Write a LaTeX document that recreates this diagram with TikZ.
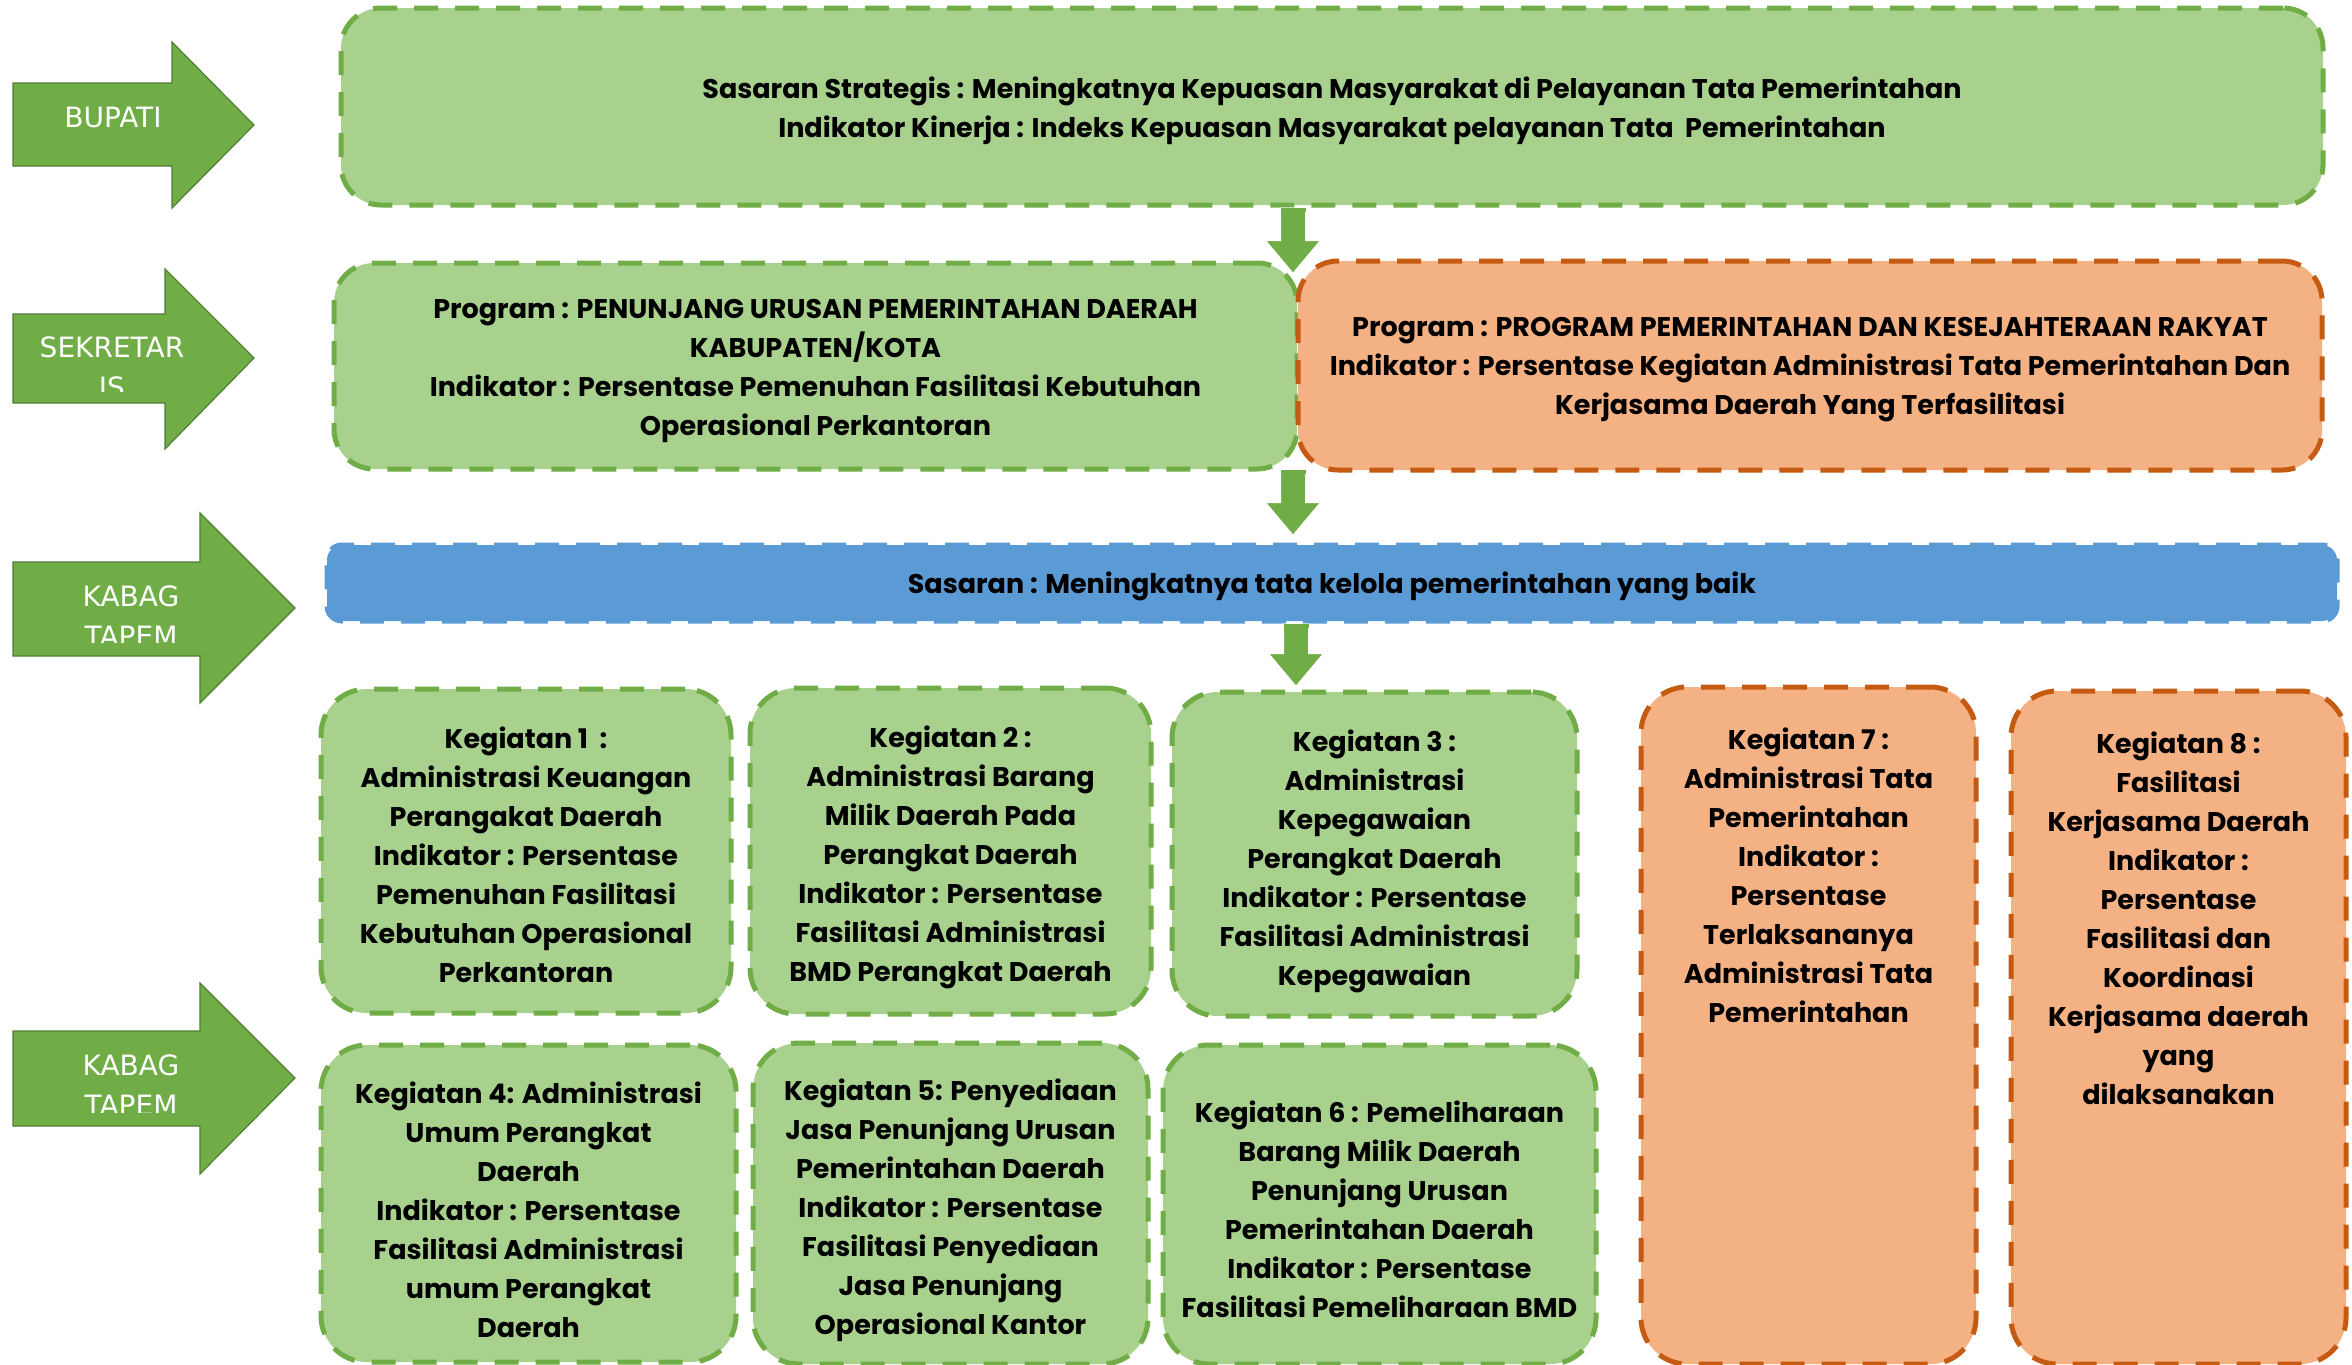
\documentclass[tikz,border=0pt]{standalone}
\usepackage{fontspec}
\setmainfont{Poppins}
\newfontfamily\arrowfont{DejaVu Sans}
\usetikzlibrary{calc}
\definecolor{gfill}{HTML}{A9D18E}
\definecolor{gline}{HTML}{70AD47}
\definecolor{ofill}{HTML}{F4B183}
\definecolor{oline}{HTML}{C55A11}
\definecolor{bfill}{HTML}{5B9BD5}
\definecolor{agreen}{HTML}{70AD47}
\definecolor{aline}{HTML}{507E32}
\tikzset{
  basebox/.style={rectangle, line width=2.5pt, dash pattern=on 12pt off 8.5pt, inner sep=0pt},
  greenbox/.style={basebox, fill=gfill, draw=gline},
  orangebox/.style={basebox, fill=ofill, draw=oline},
  bluebox/.style={basebox, fill=bfill, draw=bfill, rounded corners=7.5pt},
  bigr/.style={rounded corners=20pt},
  kegr/.style={rounded corners=23pt},
  boxtext/.style={align=center, inner sep=0pt, font=\fontsize{13.5}{19.5}\selectfont\bfseries, text=black},
  sidearrow/.style={fill=agreen, draw=aline, line width=0.6pt},
  sidetext/.style={text=white, align=center, inner sep=0pt, font=\arrowfont\fontsize{14}{20}\selectfont},
  downarrow/.style={fill=agreen, draw=white, line width=1pt},
}
\begin{document}
\begin{tikzpicture}[x=0.5pt, y=-0.5pt]
\useasboundingbox (0,0) rectangle (2352,1365);

% ---------- side arrows ----------
\draw[sidearrow] (13,83) -- (172,83) -- (172,42) -- (254,125) -- (172,208) -- (172,166) -- (13,166) -- cycle;
\node[sidetext] (tbupati) at (113,117) {BUPATI};

\draw[sidearrow] (13,314) -- (165,314) -- (165,269) -- (254,358) -- (165,449) -- (165,403) -- (13,403) -- cycle;
\begin{scope}
  \clip (13,300) rectangle (200,391);
  \node[sidetext] (tsek) at (112,367) {SEKRETAR\\IS};
\end{scope}

\draw[sidearrow] (13,562) -- (200,562) -- (200,513) -- (295,608) -- (200,703) -- (200,656) -- (13,656) -- cycle;
\begin{scope}
  \clip (13,550) rectangle (200,642);
  \node[sidetext] (tkab1) at (131,616) {KABAG\\TAPEM};
\end{scope}

\draw[sidearrow] (13,1031) -- (200,1031) -- (200,983) -- (295,1078) -- (200,1174) -- (200,1126) -- (13,1126) -- cycle;
\begin{scope}
  \clip (13,1020) rectangle (200,1112);
  \node[sidetext] (tkab2) at (131,1085) {KABAG\\TAPEM};
\end{scope}

% ---------- main boxes ----------
\node[greenbox, bigr, minimum width=991pt, minimum height=98.5pt] (top) at (1332,106.5) {};
\node[boxtext] (topt) at ($(top.center)+(0,4.5)$)
  {Sasaran Strategis : Meningkatnya Kepuasan Masyarakat di Pelayanan Tata Pemerintahan\\
   Indikator Kinerja : Indeks Kepuasan Masyarakat pelayanan Tata\ \ Pemerintahan};

\node[greenbox, bigr, minimum width=481.5pt, minimum height=103pt] (progA) at (815.5,366) {};
\node[boxtext] (progAt) at ($(progA.center)+(0,4.5)$)
  {Program : PENUNJANG URUSAN PEMERINTAHAN DAERAH\\
   KABUPATEN/KOTA\\
   Indikator : Persentase Pemenuhan Fasilitasi Kebutuhan\\
   Operasional Perkantoran};

\node[orangebox, bigr, minimum width=512pt, minimum height=104.5pt] (progB) at (1810,365.5) {};
\node[boxtext] (progBt) at ($(progB.center)+(0,4.5)$)
  {Program : PROGRAM PEMERINTAHAN DAN KESEJAHTERAAN RAKYAT\\
   Indikator : Persentase Kegiatan Administrasi Tata Pemerintahan Dan\\
   Kerjasama Daerah Yang Terfasilitasi};

\node[bluebox, minimum width=1005pt, minimum height=38pt] (sasaran) at (1332,583) {};
\node[boxtext] (sasarant) at ($(sasaran.center)+(0,3)$)
  {Sasaran : Meningkatnya tata kelola pemerintahan yang baik};

% ---------- kegiatan ----------
\node[greenbox, kegr, minimum width=205pt, minimum height=162pt] (k1) at (526,851) {};
\node[boxtext] (k1t) at ($(k1.center)+(0,4)$)
  {Kegiatan 1\ \ :\\Administrasi Keuangan\\Perangakat Daerah\\Indikator : Persentase\\Pemenuhan Fasilitasi\\Kebutuhan Operasional\\Perkantoran};
\node[greenbox, kegr, minimum width=200.5pt, minimum height=163pt] (k2) at (950.5,851) {};
\node[boxtext] (k2t) at ($(k2.center)+(0,6)$)
  {Kegiatan 2 :\\Administrasi Barang\\Milik Daerah Pada\\Perangkat Daerah\\Indikator : Persentase\\Fasilitasi Administrasi\\BMD Perangkat Daerah};
\node[greenbox, kegr, minimum width=202.5pt, minimum height=162pt] (k3) at (1374.5,854) {};
\node[boxtext] (k3t) at ($(k3.center)+(0,7)$)
  {Kegiatan 3 :\\Administrasi\\Kepegawaian\\Perangkat Daerah\\Indikator : Persentase\\Fasilitasi Administrasi\\Kepegawaian};
\node[greenbox, kegr, minimum width=207.5pt, minimum height=158.5pt] (k4) at (528.5,1203.5) {};
\node[boxtext] (k4t) at ($(k4.center)+(0,6)$)
  {Kegiatan 4: Administrasi\\Umum Perangkat\\Daerah\\Indikator : Persentase\\Fasilitasi Administrasi\\umum Perangkat\\Daerah};
\node[greenbox, kegr, minimum width=197.5pt, minimum height=160.5pt] (k5) at (950.5,1203.5) {};
\node[boxtext] (k5t) at ($(k5.center)+(0,7)$)
  {Kegiatan 5: Penyediaan\\Jasa Penunjang Urusan\\Pemerintahan Daerah\\Indikator : Persentase\\Fasilitasi Penyediaan\\Jasa Penunjang\\Operasional Kantor};
\node[greenbox, kegr, minimum width=216.5pt, minimum height=159.5pt] (k6) at (1379.5,1204.5) {};
\node[boxtext] (k6t) at ($(k6.center)+(0,5)$)
  {Kegiatan 6 : Pemeliharaan\\Barang Milik Daerah\\Penunjang Urusan\\Pemerintahan Daerah\\Indikator : Persentase\\Fasilitasi Pemeliharaan BMD};

\node[orangebox, kegr, minimum width=167.5pt, minimum height=338.5pt] (k7) at (1808.5,1025.5) {};
\node[boxtext, anchor=north] (k7t) at (1808.5,727)
  {Kegiatan 7 :\\Administrasi Tata\\Pemerintahan\\Indikator :\\Persentase\\Terlaksananya\\Administrasi Tata\\Pemerintahan};
\node[orangebox, kegr, minimum width=167.5pt, minimum height=336.5pt] (k8) at (2178.5,1027.5) {};
\node[boxtext, anchor=north] (k8t) at (2178.5,731)
  {Kegiatan 8 :\\Fasilitasi\\Kerjasama Daerah\\Indikator :\\Persentase\\Fasilitasi dan\\Koordinasi\\Kerjasama daerah\\yang\\dilaksanakan};

% ---------- down arrows ----------
\coordinate (a1s) at (top.south -| 1293,0);
\coordinate (a1e) at (1293,274);
\coordinate (a2s) at (1293,470);
\coordinate (a2e) at (1293,536);
\coordinate (a3s) at (sasaran.south -| 1296,0);
\coordinate (a3e) at (1296,687);
\foreach \s/\e in {a1s/a1e, a2s/a2e, a3s/a3e}{
  \path[downarrow] ($(\s)+(-13,1)$) -- ($(\e)+(-13,-34)$) -- ($(\e)+(-28.5,-34)$) -- (\e)
     -- ($(\e)+(28.5,-34)$) -- ($(\e)+(13,-34)$) -- ($(\s)+(13,1)$) -- cycle;
  \fill[agreen] ($(\s)+(-12.5,0)$) rectangle ($(\s)+(12.5,4)$);
}
\end{tikzpicture}
\end{document}
